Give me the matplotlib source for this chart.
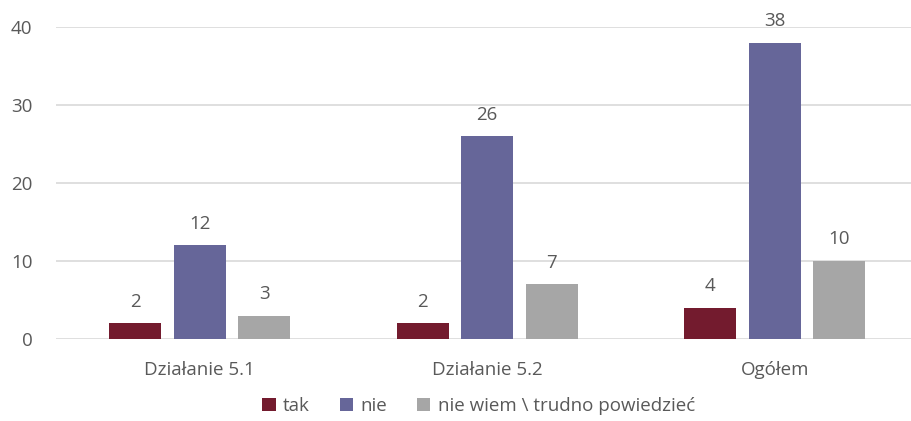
import numpy as np
import matplotlib.pyplot as plt

plt.rcParams['font.family'] = ['Open Sans', 'DejaVu Sans']

categories = ["Działanie 5.1", "Działanie 5.2", "Ogółem"]
series_names = ["tak", "nie", "nie wiem \\ trudno powiedzieć"]
tak = [2, 2, 4]
nie = [12, 26, 38]
trudno = [3, 7, 10]
colors = ["#731b2e", "#666699", "#a6a6a6"]
text_col = "#595959"

fig = plt.figure(figsize=(9.12, 4.21), dpi=100)
ax = fig.add_axes([56 / 912, 0.195, 862.5 / 912, 0.741])

x = np.arange(len(categories))
width = 0.18
step = 0.224
for i, (vals, name) in enumerate(zip([tak, nie, trudno], series_names)):
    bars = ax.bar(x + (i - 1) * step, vals, width, color=colors[i], label=name, zorder=3)
    for b, v in zip(bars, vals):
        ax.text(b.get_x() + b.get_width() / 2, v + 1.6, str(v), ha="center", va="bottom",
                fontsize=13.5, color=text_col)

ax.set_xlim(-0.5, 2.5)
ax.set_ylim(0, 40)
ax.set_yticks([0, 10, 20, 30, 40])
ax.set_xticks(x)
ax.set_xticklabels(categories)
ax.tick_params(axis="both", length=0, labelsize=13.5, labelcolor=text_col)
ax.tick_params(axis="x", pad=16)
ax.tick_params(axis="y", pad=17)
ax.grid(axis="y", color="#d9d9d9", linewidth=1.2, zorder=0)
for s in ax.spines.values():
    s.set_visible(False)

fig.legend(loc="lower center", bbox_to_anchor=(0.525, -0.025), ncol=3, frameon=False,
           fontsize=13.5, labelcolor=text_col, handlelength=0.7, handleheight=0.7,
           handletextpad=0.4, columnspacing=1.6)

fig.savefig("out.png", dpi=100)
